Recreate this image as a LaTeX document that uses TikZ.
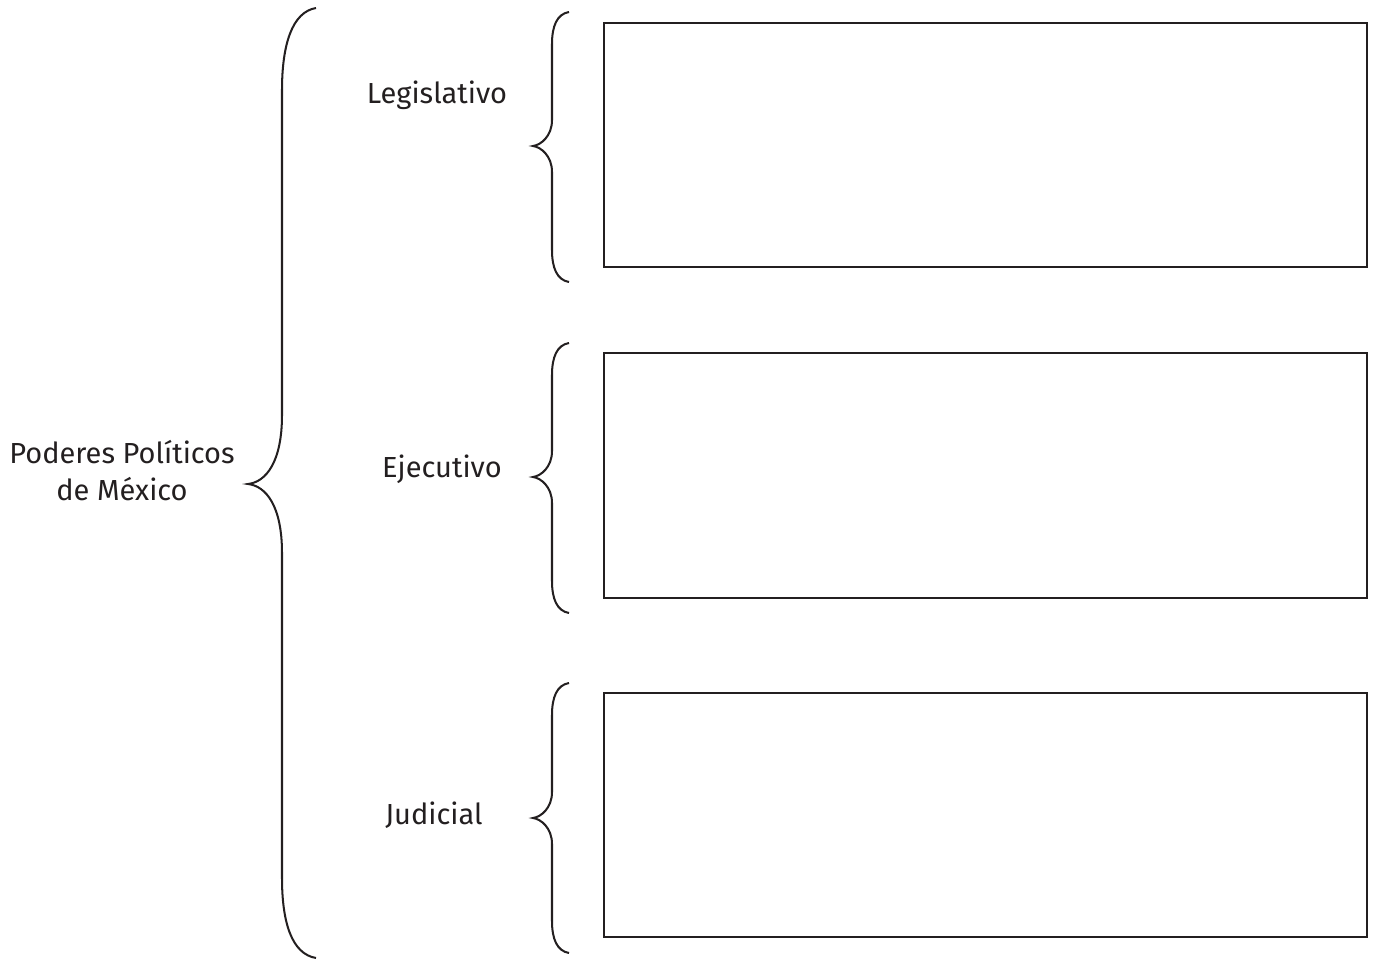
\documentclass[tikz,border=0pt]{standalone}
\usepackage{fontspec}
\setmainfont{Fira Sans}
\definecolor{ink}{HTML}{231F20}
\begin{document}
\begin{tikzpicture}[x=0.02cm,y=-0.02cm,
  line/.style={draw=ink,line width=1.15pt},
  box/.style={draw=ink,line width=1.15pt},
  lbl/.style={font=\fontsize{16.5}{21}\selectfont,text=ink,align=center,inner sep=0pt}]
\useasboundingbox (0,0) rectangle (1373,960);
% rectangles
\draw[box] (604,23) rectangle (1367,267);
\draw[box] (604,353) rectangle (1367,598);
\draw[box] (604,693) rectangle (1367,937);
% labels
\node[lbl] (pod) at (122,471) {Poderes Políticos\\de México};
\node[lbl] (leg) at (437,95) {Legislativo};
\node[lbl] (eje) at (442,469) {Ejecutivo};
\node[lbl] (jud) at (434,815) {Judicial};
% big brace
\coordinate (bt) at (316,8);
\coordinate (bm) at (248,484);
\coordinate (bb) at (316,958);
\draw[line] (bt) .. controls (292,12) and (282,45) .. (282,90)
  -- (282,415) .. controls (282,462) and (266,482) .. (bm)
  .. controls (266,486) and (282,506) .. (282,553)
  -- (282,878) .. controls (282,923) and (292,954) .. (bb);
% small braces
\foreach \t/\m/\b/\n in {12/146/282/a,343/477/613/b,683/818/953/c}{
  \draw[line] (569,\t) .. controls (557,\t+2) and (552,\t+14) .. (552,\t+32)
    -- (552,\m-26) .. controls (552,\m-10) and (541,\m-1) .. (533,\m)
    .. controls (541,\m+1) and (552,\m+10) .. (552,\m+26)
    -- (552,\b-32) .. controls (552,\b-14) and (557,\b-2) .. (569,\b);
}
\end{tikzpicture}
\end{document}
